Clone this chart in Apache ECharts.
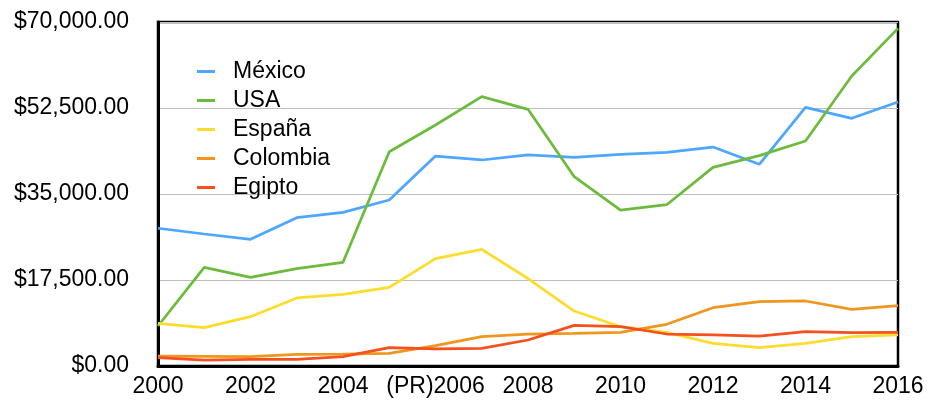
<!DOCTYPE html>
<html>
<head>
<meta charset="utf-8">
<script src="https://cdn.jsdelivr.net/npm/echarts@6/dist/echarts.min.js"></script>
<style>
  html, body { margin: 0; padding: 0; background: #fff; }
  #chart { width: 929px; height: 402px; }
</style>
</head>
<body>
<div id="chart"></div>
<script>
// Years on the horizontal axis
const years = ['2000','2001','2002','2003','2004','2005','2006','2007','2008',
               '2009','2010','2011','2012','2013','2014','2015','2016'];

// Yearly values per country (USD)
const mexico   = [28030, 26860, 25780, 30180, 31270, 33780, 42730, 41920, 42940,
                  42460, 43080, 43480, 44560, 41040, 52640, 50400, 53720];
const usa      = [8140, 20080, 18040, 19800, 21100, 43610, 49040, 54800, 52230,
                  38520, 31700, 32820, 40430, 42800, 45790, 59010, 68710];
const espana   = [8680, 7800, 10040, 13840, 14580, 16010, 21840, 23740, 17800,
                  11190, 8000, 6850, 4610, 3730, 4610, 5970, 6310];
const colombia = [2030, 1960, 1900, 2370, 2440, 2580, 4140, 5970, 6510,
                  6650, 6850, 8480, 11860, 13090, 13230, 11530, 12270];
const egipto   = [1700, 1220, 1360, 1360, 1900, 3730, 3460, 3590, 5290,
                  8270, 8000, 6510, 6310, 6100, 6980, 6780, 6850];

// Value axis ticks
const yTicks = { min: 0, max: 70000, interval: 17500 };

const seriesDefs = [
  { name: 'México',   data: mexico,   color: '#4DA6FF' },
  { name: 'USA',      data: usa,      color: '#6CBB3C' },
  { name: 'España',   data: espana,   color: '#FCDC2C' },
  { name: 'Colombia', data: colombia, color: '#F0961E' },
  { name: 'Egipto',   data: egipto,   color: '#F5501E' }
];

const font = 'Liberation Sans, Arial, Helvetica, sans-serif';
const fontSize = 23;

function money(v) {
  return '$' + v.toLocaleString('en-US', { minimumFractionDigits: 2, maximumFractionDigits: 2 });
}

const chart = echarts.init(document.getElementById('chart'), null, { renderer: 'canvas' });
chart.setOption({
  animation: false,
  backgroundColor: '#fff',
  grid: {
    left: 158, right: 31, top: 22, bottom: 36,
    show: true, borderColor: '#000', borderWidth: 2.5, backgroundColor: 'transparent'
  },
  legend: {
    orient: 'vertical',
    left: 192, top: 55,
    icon: 'rect',
    itemWidth: 18, itemHeight: 3,
    itemGap: 6,
    textStyle: { fontFamily: font, fontSize: fontSize, color: '#000', lineHeight: 23, padding: [0, 0, 0, 13] },
    data: seriesDefs.map(s => s.name)
  },
  xAxis: {
    type: 'category',
    data: years,
    boundaryGap: false,
    axisLine: { lineStyle: { color: '#000', width: 3 } },
    axisTick: { show: false },
    axisLabel: {
      interval: 1,
      margin: 9,
      fontFamily: font, fontSize: fontSize, color: '#000',
      formatter: v => v === '2006' ? '(PR)2006' : v
    },
    splitLine: { show: false }
  },
  yAxis: {
    type: 'value',
    min: yTicks.min, max: yTicks.max, interval: yTicks.interval,
    axisLine: { show: true, lineStyle: { color: '#000', width: 3 } },
    axisTick: { show: false },
    axisLabel: { margin: 29, fontFamily: font, fontSize: fontSize, color: '#000', formatter: money },
    splitLine: { lineStyle: { color: '#BEBEBE', width: 1 } }
  },
  series: seriesDefs.map(s => ({
    name: s.name,
    type: 'line',
    data: s.data,
    symbol: 'none',
    color: s.color,
    lineStyle: { color: s.color, width: 2.75 }
  }))
});
</script>
</body>
</html>
